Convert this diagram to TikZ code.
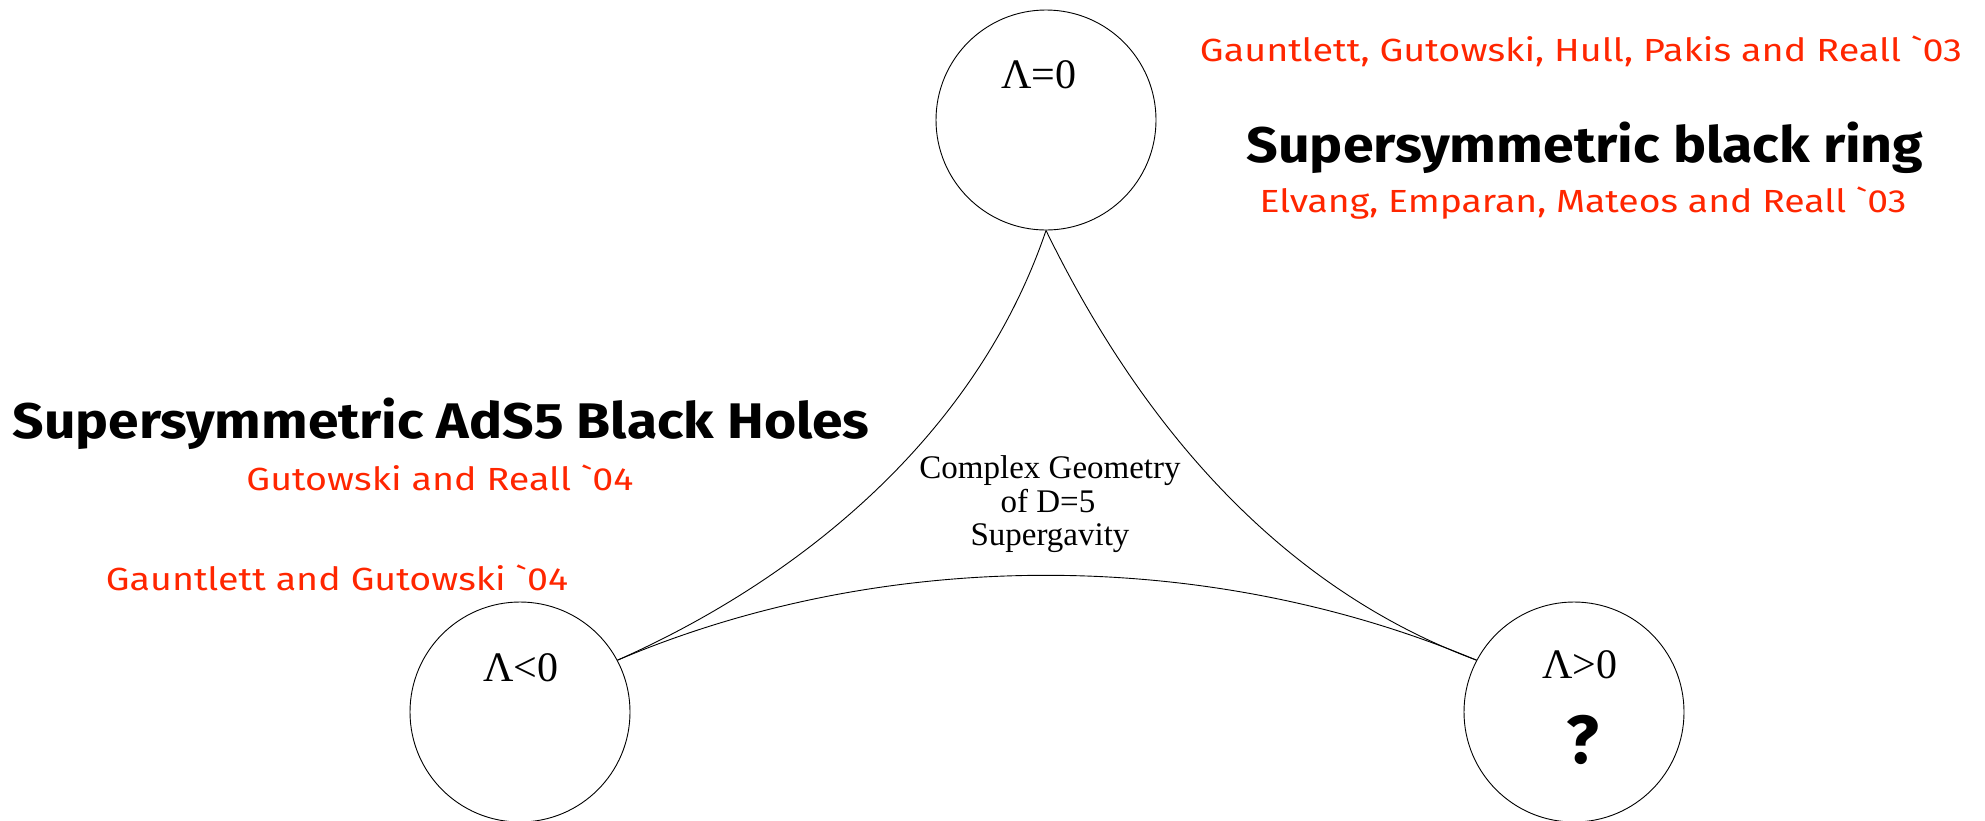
\documentclass[tikz,border=0pt]{standalone}
\usepackage{fontspec}
\setmainfont{Liberation Serif}
\newfontfamily\comicfont{Fira Sans}
\definecolor{refred}{RGB}{255,38,0}
\newcommand{\fitto}[2]{\resizebox{#1}{\height}{#2}}
\tikzset{
  ring/.style={circle, draw, line width=0.9pt, minimum size=220pt, inner sep=0pt},
  lam/.style={anchor=base, inner sep=0pt, font=\fontsize{42}{48}\selectfont},
  cite/.style={anchor=base, inner sep=0pt, text=refred, font=\comicfont\fontsize{32}{38}\selectfont},
  headline/.style={anchor=base, inner sep=0pt, font=\comicfont\bfseries\fontsize{50}{60}\selectfont},
  link/.style={line width=0.9pt},
  centertext/.style={anchor=base, inner sep=0pt, font=\fontsize{33}{33.5}\selectfont},
}
\begin{document}
\begin{tikzpicture}[x=1pt,y=1pt]
\useasboundingbox (0,0) rectangle (1985,-820);
\clip (0,0) rectangle (1985,-820);
\fill[white] (0,0) rectangle (1985,-820);

% circles
\node[ring] (top) at (1046,-120) {};
\node[ring] (left) at (520,-712) {};
\node[ring] (right) at (1574,-712) {};

% labels in circles
\node[lam] (ltop) at (1039,-88) {Λ=0};
\node[lam] (lleft) at (521,-681) {Λ<0};
\node[lam] (lright) at (1580,-678) {Λ>0};
\node[anchor=base, inner sep=0pt, font=\comicfont\bfseries\fontsize{68}{70}\selectfont] (qm) at (1583,-763) {?};

% connectors
\draw[link] (top.south) .. controls (978,-431) and (807,-576) .. (left.28);
\draw[link] (top.south) .. controls (1137,-417) and (1274,-585) .. (right.152);
\draw[link] (left.28) .. controls (884,-547) and (1207,-547) .. (right.152);

% centre text
\node[centertext] (c1) at (1050,-478) {Complex Geometry};
\node[centertext] (c2) at (1048,-512) {of D=5};
\node[centertext] (c3) at (1050,-545) {Supergavity};

% references top right
\node[cite] (r1) at (1581,-61) {\fitto{762pt}{Gauntlett, Gutowski, Hull, Pakis and Reall \symbol{96}03}};
\node[headline] (h1) at (1585,-162) {\fitto{677pt}{Supersymmetric black ring}};
\node[cite] (r2) at (1583,-212) {\fitto{647pt}{Elvang, Emparan, Mateos and Reall \symbol{96}03}};

% references left
\node[headline] (h2) at (441,-438) {\fitto{857pt}{Supersymmetric AdS5 Black Holes}};
\node[cite] (r3) at (440,-490) {\fitto{387pt}{Gutowski and Reall \symbol{96}04}};
\node[cite] (r4) at (337,-590) {\fitto{462pt}{Gauntlett and Gutowski \symbol{96}04}};
\end{tikzpicture}
\end{document}
